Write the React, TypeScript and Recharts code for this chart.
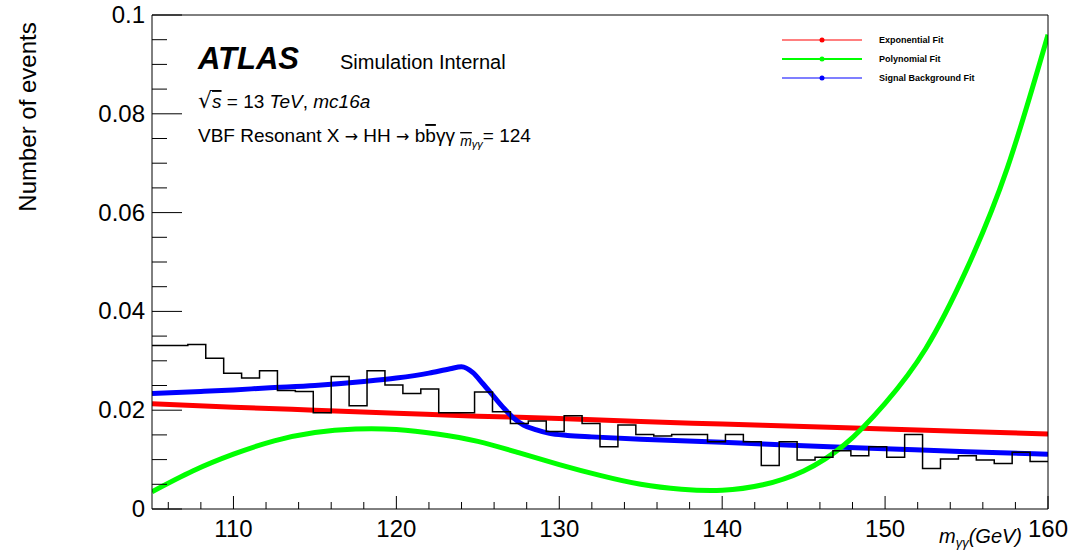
import { LineChart, Line, XAxis, YAxis, Legend } from "recharts";

const FONT = "'Liberation Sans', Arial, Helvetica, sans-serif";
const SYMBOL_FONT = "'DejaVu Sans', sans-serif";

// m_yy histogram: 50 bins of 1.1 GeV from 105 GeV
const binLow = 105;
const binWidth = 1.1;
const histValues = [
  0.0331, 0.0331, 0.0333, 0.0305, 0.0275, 0.0265, 0.028, 0.024, 0.0238, 0.0195,
  0.0268, 0.0209, 0.028, 0.0251, 0.0234, 0.0243, 0.0195, 0.0195, 0.0237, 0.0197,
  0.0173, 0.0178, 0.0157, 0.0189, 0.0173, 0.0126, 0.017, 0.0151, 0.0148, 0.0151,
  0.0151, 0.0136, 0.0151, 0.0136, 0.0088, 0.0136, 0.0099, 0.0105, 0.0118, 0.0108,
  0.0126, 0.0105, 0.0151, 0.0082, 0.0101, 0.0108, 0.0099, 0.0092, 0.0115, 0.0096,
];

// fitted curves, sampled along m_yy
const expMass = [105, 110, 115, 120, 125, 130, 135, 140, 145, 150, 155, 160];
const expValues = [0.0213, 0.0206, 0.02, 0.0194, 0.0188, 0.0183, 0.0177, 0.0172, 0.0167, 0.0162, 0.0157, 0.0152];

const polyMass = [105, 107.5, 110, 112.5, 115, 117.5, 120, 122.5, 125, 127.5, 130, 132.5, 135, 137.5, 140, 142.5, 145, 147.5, 150, 152.5, 155, 157.5, 160];
const polyValues = [
  0.0035, 0.0077, 0.0111, 0.0138, 0.0155, 0.0162, 0.0161, 0.0152, 0.0137, 0.0114, 0.009, 0.0068, 0.005,
  0.004, 0.0038, 0.0049, 0.0077, 0.013, 0.0214, 0.0325, 0.0485, 0.069, 0.096,
];

const sigMass = [
  105, 108, 110, 112, 115, 118, 120, 122, 123.3, 124, 124.7, 125.3, 126, 126.6, 127.2, 127.8, 128.6, 129.4,
  130.5, 132, 135, 140, 145, 150, 155, 160,
];
const sigValues = [
  0.0234, 0.0238, 0.0241, 0.0245, 0.025, 0.0258, 0.0265, 0.0275, 0.0284, 0.0288, 0.0276, 0.0254, 0.0227,
  0.0204, 0.0184, 0.017, 0.016, 0.0153, 0.0149, 0.0146, 0.0141, 0.0135, 0.0128, 0.0122, 0.0116, 0.0111,
];

const xTicks = [106, 108, 110, 112, 114, 116, 118, 120, 122, 124, 126, 128, 130, 132, 134, 136, 138, 140, 142, 144, 146, 148, 150, 152, 154, 156, 158, 160];
const yTicks = [
  0, 0.005, 0.01, 0.015, 0.02, 0.025, 0.03, 0.035, 0.04, 0.045, 0.05, 0.055, 0.06, 0.065, 0.07, 0.075, 0.08,
  0.085, 0.09, 0.095, 0.1,
];
const legendOrder = ["Exponential Fit", "Polynomial Fit", "Signal Background Fit"];
const fitColors: Record<string, string> = {
  "Exponential Fit": "#ff0000",
  "Polynomial Fit": "#00ff00",
  "Signal Background Fit": "#0000ff",
};

const histPoints = [
  ...histValues.map((v, i) => ({ x: +(binLow + i * binWidth).toFixed(2), y: v })),
  { x: +(binLow + histValues.length * binWidth).toFixed(2), y: histValues[histValues.length - 1] },
];
const toPoints = (xs: number[], ys: number[]) => xs.map((x, i) => ({ x, y: ys[i] }));

const isMajorX = (v: number) => v % 10 === 0;
const isMajorY = (v: number) => Math.round(v * 1000) % 20 === 0;

function BottomTick({ x, y, payload }: any) {
  const major = isMajorX(payload.value);
  return (
    <g>
      <line x1={x} x2={x} y1={y} y2={y - (major ? 13 : 7)} stroke="#000" />
      {major && (
        <text x={x} y={y + 28} textAnchor="middle" fontSize={24} fontFamily={FONT} fill="#000">
          {payload.value}
        </text>
      )}
    </g>
  );
}

function TopTick({ x, y, payload }: any) {
  const major = isMajorX(payload.value);
  return <line x1={x} x2={x} y1={y} y2={y + (major ? 13 : 6)} stroke="#000" />;
}

function LeftTick({ x, y, payload }: any) {
  const major = isMajorY(payload.value);
  return (
    <g>
      <line x1={x} x2={x + (major ? 30 : 15)} y1={y} y2={y} stroke="#000" />
      {major && (
        <text x={x - 7} y={y + 8} textAnchor="end" fontSize={24} fontFamily={FONT} fill="#000">
          {+payload.value.toFixed(2)}
        </text>
      )}
    </g>
  );
}

function RightTick({ x, y, payload }: any) {
  const major = isMajorY(payload.value);
  return <line x1={x} x2={x - (major ? 30 : 15)} y1={y} y2={y} stroke="#000" />;
}

function FitLegend({ payload }: any) {
  const items = (payload ?? [])
    .filter((entry: any) => legendOrder.includes(entry.value))
    .sort((a: any, b: any) => legendOrder.indexOf(a.value) - legendOrder.indexOf(b.value));
  return (
    <div style={{ fontFamily: FONT }}>
      {items.map((entry: any) => {
        const color = fitColors[entry.value];
        return (
          <div key={entry.value} style={{ display: "flex", alignItems: "center", height: 19 }}>
            <svg width={80} height={19}>
              <line x1={0} x2={80} y1={10} y2={10} stroke={color} strokeWidth={entry.value === "Polynomial Fit" ? 2 : 1.2} />
              <circle cx={40} cy={10} r={2.5} fill={color} />
            </svg>
            <span style={{ marginLeft: 17, fontSize: 9, fontWeight: 700, color: "#000" }}>{entry.value}</span>
          </div>
        );
      })}
    </div>
  );
}

export default function App() {
  return (
    <div style={{ position: "absolute", left: 0, top: 0, width: 1074, height: 551, background: "#fff" }}>
      <LineChart width={1074} height={551} margin={{ top: 14, right: 25, bottom: 41, left: 151 }}>
        <XAxis
          dataKey="x"
          type="number"
          domain={[105, 160]}
          ticks={xTicks}
          interval={0}
          height={1}
          tickSize={0}
          tickMargin={0}
          tickLine={false}
          axisLine={{ stroke: "#000" }}
          tick={BottomTick}
          allowDataOverflow
        />
        <XAxis
          xAxisId="top"
          orientation="top"
          dataKey="x"
          type="number"
          domain={[105, 160]}
          ticks={xTicks}
          interval={0}
          height={1}
          tickSize={0}
          tickMargin={0}
          tickLine={false}
          axisLine={{ stroke: "#000" }}
          tick={TopTick}
        />
        <YAxis
          type="number"
          domain={[0, 0.1]}
          ticks={yTicks}
          interval={0}
          width={1}
          tickSize={0}
          tickMargin={0}
          tickLine={false}
          axisLine={{ stroke: "#000" }}
          tick={LeftTick}
          allowDataOverflow
        />
        <YAxis
          yAxisId="right"
          orientation="right"
          type="number"
          domain={[0, 0.1]}
          ticks={yTicks}
          interval={0}
          width={1}
          tickSize={0}
          tickMargin={0}
          tickLine={false}
          axisLine={{ stroke: "#000" }}
          tick={RightTick}
        />
        <Legend
          layout="vertical"
          align="center"
          verticalAlign="middle"
          content={FitLegend}
          wrapperStyle={{ left: 782, top: 30, width: 240 }}
        />
        <Line
          data={toPoints(expMass, expValues)}
          dataKey="y"
          name="Exponential Fit"
          type="monotone"
          stroke="#ff0000"
          strokeWidth={5}
          dot={false}
          activeDot={false}
          isAnimationActive={false}
        />
        <Line
          data={toPoints(sigMass, sigValues)}
          dataKey="y"
          name="Signal Background Fit"
          type="monotone"
          stroke="#0000ff"
          strokeWidth={5}
          dot={false}
          activeDot={false}
          isAnimationActive={false}
        />
        <Line
          data={toPoints(polyMass, polyValues)}
          dataKey="y"
          name="Polynomial Fit"
          type="natural"
          stroke="#00ff00"
          strokeWidth={5}
          dot={false}
          activeDot={false}
          isAnimationActive={false}
        />
        <Line
          data={histPoints}
          dataKey="y"
          name="MC"
          type="stepAfter"
          stroke="#000"
          strokeWidth={1.5}
          dot={false}
          activeDot={false}
          legendType="none"
          isAnimationActive={false}
        />
      </LineChart>

      <svg
        width={1074}
        height={551}
        style={{ position: "absolute", left: 0, top: 0, pointerEvents: "none" }}
        fontFamily={FONT}
        fill="#000"
      >
        <text transform="translate(36,117) rotate(-90)" textAnchor="middle" fontSize={24}>
          Number of events
        </text>
        <text x={198} y={69} fontSize={31} fontWeight={700} fontStyle="italic">
          ATLAS
        </text>
        <text x={340} y={69} fontSize={20}>
          Simulation Internal
        </text>
        <text x={198} y={108} fontSize={19}>
          <tspan fontFamily={SYMBOL_FONT} fontSize={22}>√</tspan>
          <tspan fontStyle="italic" textDecoration="overline">s</tspan>
          <tspan> = 13 </tspan>
          <tspan fontStyle="italic">TeV</tspan>
          <tspan>, </tspan>
          <tspan fontStyle="italic">mc16a</tspan>
        </text>
        <text x={198} y={142} fontSize={19}>
          <tspan>VBF Resonant X </tspan>
          <tspan fontFamily={SYMBOL_FONT} fontSize={16}> → </tspan>
          <tspan> HH </tspan>
          <tspan fontFamily={SYMBOL_FONT} fontSize={16}>→</tspan>
          <tspan> b</tspan>
          <tspan textDecoration="overline">b</tspan>
          <tspan>γγ </tspan>
          <tspan fontStyle="italic" fontSize={14} dy={4} textDecoration="overline">m</tspan>
          <tspan fontStyle="italic" fontSize={11} dy={2}>γγ</tspan>
          <tspan dy={-6}>= 124</tspan>
        </text>
        <text x={939} y={543} fontSize={20} fontStyle="italic">
          <tspan>m</tspan>
          <tspan fontSize={13} dy={4}>γγ</tspan>
          <tspan dy={-4}>(GeV)</tspan>
        </text>
      </svg>
    </div>
  );
}
